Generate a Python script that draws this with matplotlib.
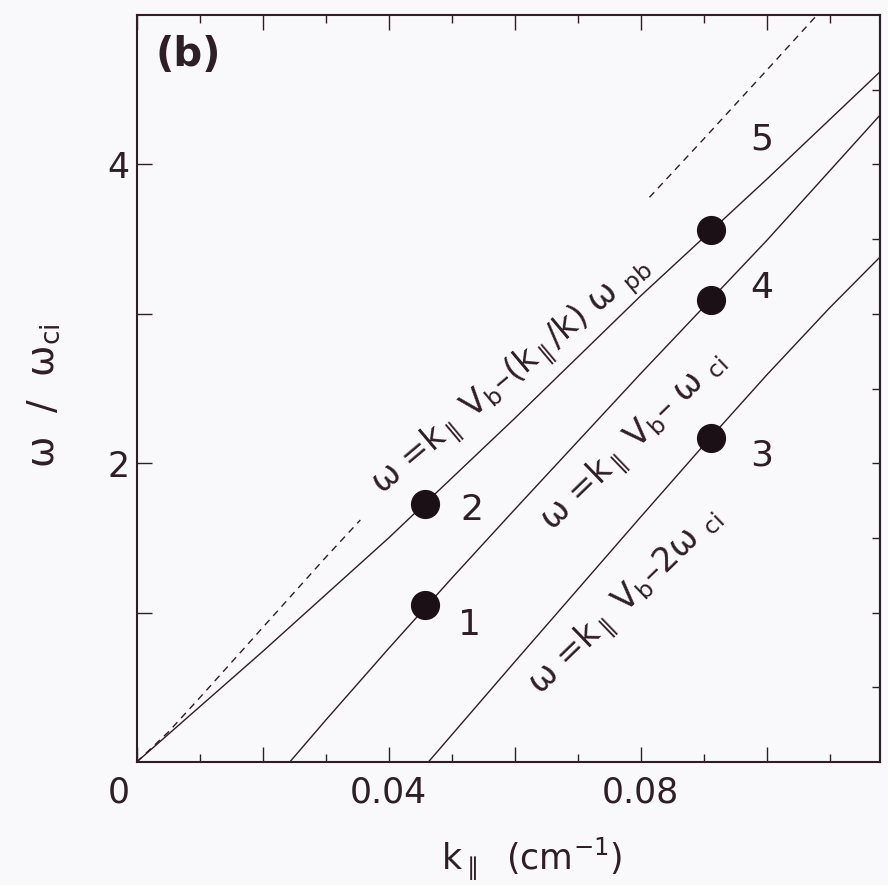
import matplotlib
matplotlib.use("Agg")
import matplotlib.pyplot as plt
import numpy as np
from matplotlib.transforms import ScaledTranslation

plt.rcParams['font.family'] = ['DejaVu Sans']
plt.rcParams['mathtext.fontset'] = 'dejavusans'

ink = '#2e1f27'

# resonance lines: k_par in cm^-1, omega in units of omega_ci
k_pb = [0, 0.02, 0.04, 0.06, 0.08, 0.10, 0.118]
w_pb = [0, 0.74, 1.50, 2.30, 3.12, 3.90, 4.62]

k_ci1 = [0.0243, 0.03, 0.04, 0.05, 0.06, 0.08, 0.10, 0.118]
w_ci1 = [0, 0.28, 0.76, 1.23, 1.69, 2.60, 3.49, 4.33]

k_ci2 = [0.0463, 0.06, 0.08, 0.09, 0.10, 0.11, 0.118]
w_ci2 = [0, 0.67, 1.64, 2.12, 2.59, 3.04, 3.38]

# beam line (dashed), broken where the label sits
k_beam = [0, 0.005, 0.01, 0.02, 0.03, 0.0355, np.nan, 0.0814, 0.09, 0.10, 0.108]
w_beam = [0, 0.20, 0.43, 0.90, 1.37, 1.62, np.nan, 3.78, 4.17, 4.63, 5.0]

# measured modes
mode_id = ['1', '2', '3', '4', '5']
mode_k = [0.0457, 0.0457, 0.0911, 0.0911, 0.0911]
mode_w = [1.05, 1.73, 2.17, 3.09, 3.56]
# where each mode number goes, in pixels from its dot
mode_off = [(45, -20), (47, -6), (51, -18), (51, 12), (51, 91)]

fig = plt.figure(figsize=(8.88, 8.85), dpi=100, facecolor='#f9f8fa')
ax = fig.add_axes([0.154, 0.139, 0.837, 0.844])
ax.set_facecolor('#f9f8fa')

ax.plot(k_pb, w_pb, color=ink, lw=1.0)
ax.plot(k_ci1, w_ci1, color=ink, lw=1.0)
ax.plot(k_ci2, w_ci2, color=ink, lw=1.0)
ax.plot(k_beam, w_beam, color=ink, lw=1.0, dashes=(5, 4))

ax.plot(mode_k, mode_w, 'o', color='#1a1015', ms=20, zorder=5)
for lab, k, w, off in zip(mode_id, mode_k, mode_w, mode_off):
    ax.annotate(lab, (k, w), xytext=off, textcoords='offset pixels',
                ha='center', va='center', fontsize=26, color=ink)

# dispersion relations written along the lines
ax.text(0.0595, 2.58, 'ω =k$_{\\parallel}$ V$_{\\rm b}$–(k$_{\\parallel}$/k) ω $_{\\rm pb}$',
        rotation=40, ha='center', va='center', fontsize=24, color=ink)
ax.text(0.0790, 2.14, 'ω =k$_{\\parallel}$ V$_{\\rm b}$– ω $_{\\rm ci}$',
        rotation=44, ha='center', va='center', fontsize=24, color=ink)
ax.text(0.0776, 1.07, 'ω =k$_{\\parallel}$ V$_{\\rm b}$–2ω $_{\\rm ci}$',
        rotation=44, ha='center', va='center', fontsize=24, color=ink)

ax.text(0.069, 0.946, '(b)', transform=ax.transAxes, ha='center', va='center',
        fontsize=29, fontweight='bold', color=ink)

ax.set_xlim(0, 0.118)
ax.set_ylim(0, 5.0)

ax.set_xticks([0, 0.02, 0.04, 0.06, 0.08, 0.10])
ax.set_xticklabels(['0', '', '0.04', '', '0.08', ''])
ax.set_xticks([0.01, 0.03, 0.05, 0.07, 0.09, 0.11], minor=True)
ax.set_yticks([1, 2, 3, 4])
ax.set_yticklabels(['', '2', '', '4'])

ax.tick_params(which='major', direction='in', length=11, width=1.0,
               labelsize=25, colors=ink, top=True, right=False)
ax.tick_params(axis='x', which='major', pad=10)
ax.tick_params(axis='y', which='major', pad=5)
ax.tick_params(which='minor', direction='in', length=6, width=1.0,
               top=True, right=False, colors=ink)
ax.tick_params(axis='y', which='minor', left=False)

# the corner zero sits left of the origin
lbl0 = ax.get_xticklabels()[0]
lbl0.set_transform(lbl0.get_transform() + ScaledTranslation(-0.18, 0, fig.dpi_scale_trans))

# right spine carries finer, unlabeled ticks
ax_r = ax.secondary_yaxis('right')
ax_r.set_yticks(np.arange(0.5, 5.0, 0.5))
ax_r.tick_params(direction='in', length=6, width=1.0, labelright=False, colors=ink)

for sp in ax.spines.values():
    sp.set_linewidth(1.5)
    sp.set_color(ink)
ax_r.spines['right'].set_linewidth(1.5)
ax_r.spines['right'].set_color(ink)

ax.set_xlabel('k$_{\\parallel}$  (cm$^{-1}$)', fontsize=25, color=ink)
ax.set_ylabel('ω  /  ω$_{\\rm ci}$', fontsize=27, color=ink)
ax.xaxis.set_label_coords(0.532, -0.098)
ax.yaxis.set_label_coords(-0.10, 0.49)

plt.savefig('out.png', dpi=100, facecolor=fig.get_facecolor())
